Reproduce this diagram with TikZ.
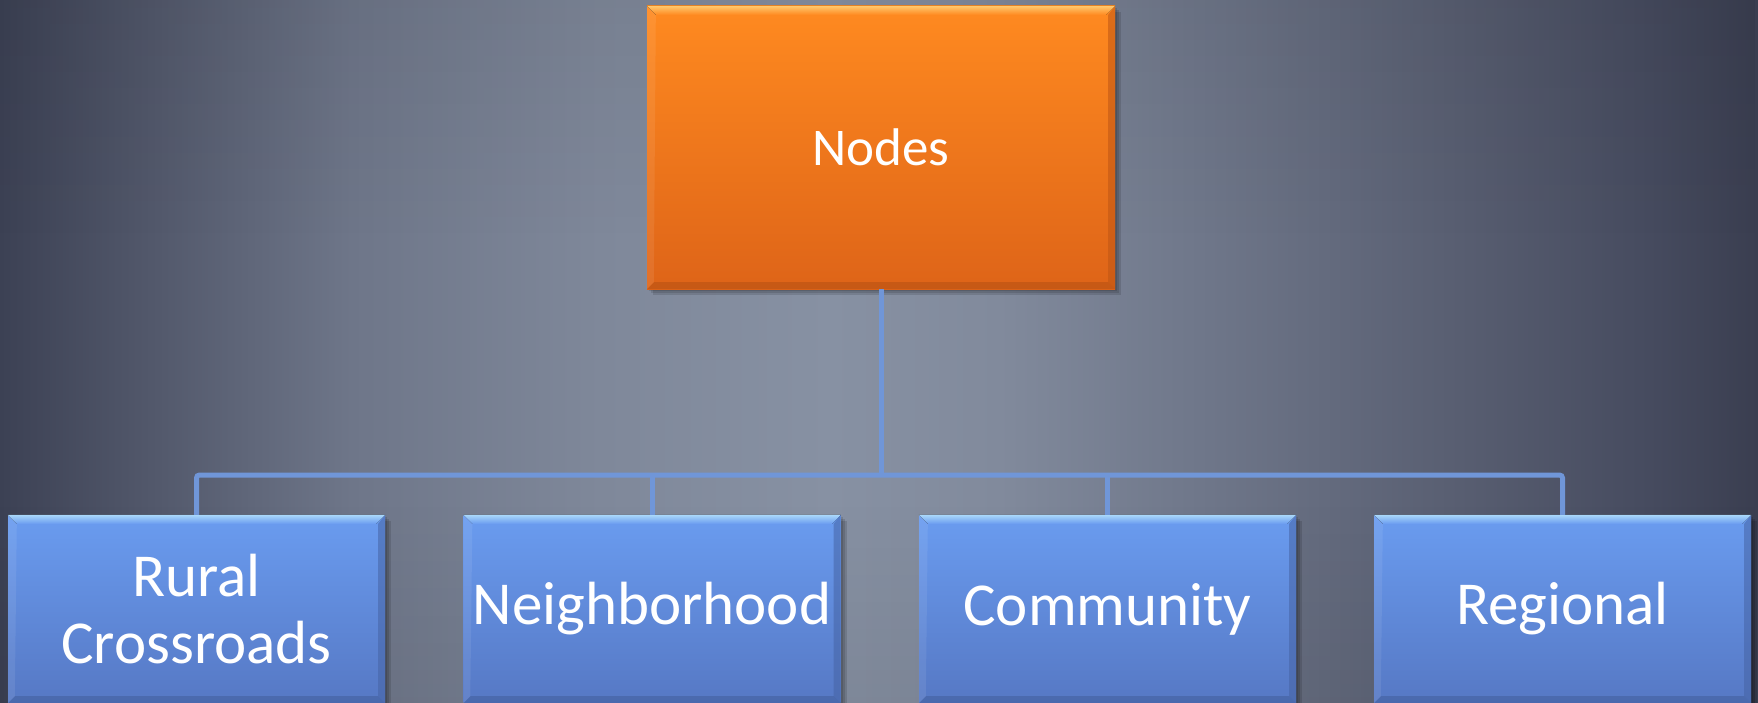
\documentclass[tikz,border=0pt]{standalone}
\usepackage{fontspec}
\setmainfont{Carlito}
\usetikzlibrary{calc,fadings}

% palette
\definecolor{bgA}{RGB}{60,65,84}
\definecolor{bgB}{RGB}{82,88,107}
\definecolor{bgC}{RGB}{110,118,137}
\definecolor{bgD}{RGB}{127,136,154}
\definecolor{bgE}{RGB}{135,145,163}
\definecolor{bgF}{RGB}{129,138,156}
\definecolor{bgG}{RGB}{111,119,138}
\definecolor{bgH}{RGB}{89,95,114}
\definecolor{bgI}{RGB}{70,75,95}
\definecolor{bgJ}{RGB}{58,62,80}
\definecolor{orTop}{RGB}{255,138,32}
\definecolor{orBot}{RGB}{222,100,24}
\definecolor{orHi}{RGB}{255,200,110}
\definecolor{orEdge}{RGB}{190,85,20}
\definecolor{blTop}{RGB}{106,156,240}
\definecolor{blBot}{RGB}{86,120,196}
\definecolor{blHi}{RGB}{170,216,250}
\definecolor{blEdge}{RGB}{70,100,165}
\definecolor{connblue}{RGB}{112,150,216}

% backdrop: bright column a little left of the middle, dark sides
\pgfdeclarehorizontalshading{backdrop}{100bp}{%
  color(0bp)=(bgA); color(25bp)=(bgA); color(29.3bp)=(bgB);
  color(35bp)=(bgC); color(42.1bp)=(bgD); color(48.6bp)=(bgE);
  color(53.4bp)=(bgF); color(59.1bp)=(bgG); color(66.2bp)=(bgH);
  color(71.9bp)=(bgI); color(75bp)=(bgJ); color(100bp)=(bgJ)}

\tikzset{
  headbox/.style={inner sep=0pt, minimum width=468pt, minimum height=283pt,
    top color=orTop, bottom color=orBot, text=white,
    font=\fontsize{53}{58}\selectfont},
  leafbox/.style={inner sep=0pt, minimum width=377pt, minimum height=188pt,
    top color=blTop, bottom color=blBot, text=white, align=center,
    font=\fontsize{61}{67}\selectfont},
  conn/.style={draw=connblue, line width=5pt, rounded corners=3pt},
  boxshadow/.style={fill=black, opacity=0.12},
}

% bevel strips round a box: bright top rim, dark right and bottom rims
\newcommand{\bevel}[4]{% node, highlight, edge colour, inner colour
  \fill[top color=#2, bottom color=#4]
    (#1.north west) -- (#1.north east) -- ($(#1.north east)+(-9,9)$)
    -- ($(#1.north west)+(9,9)$) -- cycle;
  \fill[#3, opacity=0.55]
    (#1.north east) -- (#1.south east) -- ($(#1.south east)+(-7,-7)$)
    -- ($(#1.north east)+(-7,9)$) -- cycle;
  \fill[#3, opacity=0.7]
    (#1.south west) -- (#1.south east) -- ($(#1.south east)+(-7,-7)$)
    -- ($(#1.south west)+(7,-7)$) -- cycle;
  \fill[white, opacity=0.08]
    (#1.north west) -- (#1.south west) -- ($(#1.south west)+(7,-7)$)
    -- ($(#1.north west)+(9,9)$) -- cycle;
}

\begin{document}
\begin{tikzpicture}[x=1pt, y=-1pt]
\useasboundingbox (0,0) rectangle (1758,703);
\clip (0,0) rectangle (1758,703);

% backdrop, a touch darker towards the top and bottom
\shade[shading=backdrop] (0,0) rectangle (1758,703);
\fill[black, opacity=0.06, path fading=south] (0,0) rectangle (1758,240);
\fill[black, opacity=0.06, path fading=north] (0,500) rectangle (1758,703);

% hub of the tree
\coordinate (bar) at (881,475);

% soft shadows
\foreach \d in {2,4,6}{
  \fill[boxshadow] (647+\d,6+\d) rectangle (1115+\d,289+\d);
}
\foreach \cx in {196.5,652,1107.5,1562.5}{
  \foreach \d in {2,4,6}{
    \fill[boxshadow] (\cx-188.5+\d,515+\d) rectangle (\cx+188.5+\d,703+\d);
  }
}

% boxes
\node[headbox] (head) at (881,147.5) {Nodes};
\node[leafbox] (rural) at (196.5,609) {Rural\\Crossroads};
\node[leafbox] (neigh) at (652,609) {Neighborhood};
\node[leafbox] (comm)  at (1107.5,609) {Community};
\node[leafbox] (reg)   at (1562.5,609) {Regional};

\bevel{head}{orHi}{orEdge}{orTop}
\bevel{rural}{blHi}{blEdge}{blTop}
\bevel{neigh}{blHi}{blEdge}{blTop}
\bevel{comm}{blHi}{blEdge}{blTop}
\bevel{reg}{blHi}{blEdge}{blTop}

% connectors
\draw[conn] (head.south) -- (bar);
\draw[conn] (rural.north) |- (bar) -| (reg.north);
\draw[conn] (neigh.north) -- (neigh.north |- bar);
\draw[conn] (comm.north) -- (comm.north |- bar);
\end{tikzpicture}
\end{document}
